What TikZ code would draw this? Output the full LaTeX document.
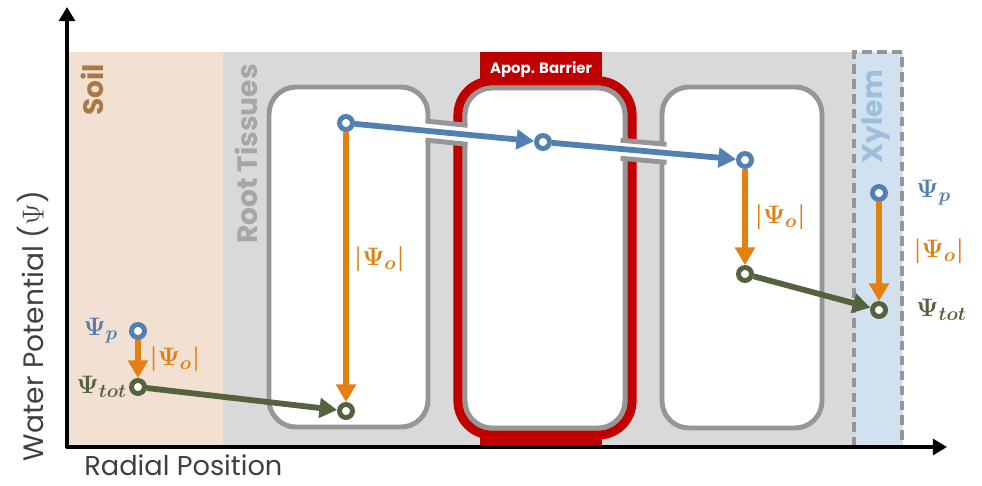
\documentclass[tikz,border=0pt]{standalone}
\usepackage{fontspec}
\setmainfont{Poppins}
\usepackage{amsmath}
\usetikzlibrary{arrows.meta, positioning, calc}

\definecolor{soilFill}{RGB}{242,225,211}
\definecolor{soilText}{RGB}{168,122,72}
\definecolor{tissueFill}{RGB}{217,217,217}
\definecolor{tissueText}{RGB}{166,166,166}
\definecolor{wallGray}{RGB}{150,150,150}
\definecolor{barrierRed}{RGB}{192,0,0}
\definecolor{xylemFill}{RGB}{210,225,239}
\definecolor{xylemText}{RGB}{157,190,220}
\definecolor{psiBlue}{RGB}{82,128,176}
\definecolor{psiOrange}{RGB}{227,128,18}
\definecolor{psiGreen}{RGB}{84,99,62}
\definecolor{axisText}{RGB}{64,64,64}

\tikzset{
  axisArrow/.style={-{Triangle[length=8pt, width=9pt]}, line width=2.6pt},
  % --- PAREDES CELULARES ---
  cellWall/.style={draw=wallGray, fill=white, line width=2.8pt, rounded corners=0.54cm},
  wallLine/.style={draw=wallGray, line width=2.8pt},
  % --- SETAS DE FLUXO ---
  flowBase/.style={line width=3.3pt, -{Triangle[length=10pt, width=11pt]}},
  flowBlue/.style={flowBase, draw=psiBlue, fill=psiBlue},
  flowOrange/.style={flowBase, draw=psiOrange, fill=psiOrange},
  flowGreen/.style={flowBase, draw=psiGreen, fill=psiGreen},
  % --- PONTOS ---
  dotBase/.style={circle, fill=white, line width=2.8pt, minimum size=0.26cm, inner sep=0pt},
  dotBlue/.style={dotBase, draw=psiBlue},
  dotGreen/.style={dotBase, draw=psiGreen},
  % --- TEXTOS ---
  regionLabel/.style={rotate=90, anchor=east, font=\fontsize{16}{19}\selectfont\bfseries},
  psiLabel/.style={font=\fontsize{15.5}{18}\selectfont\boldmath, inner sep=1pt},
  axisLabel/.style={text=axisText, font=\fontsize{16}{19}\selectfont}
}

\begin{document}
\begin{tikzpicture}[x=0.02cm, y=-0.02cm]
  \useasboundingbox (0,0) rectangle (982,485);

  %% --- REGIÕES DE FUNDO ---
  \fill[soilFill] (67,52) rectangle (223,447);
  \fill[tissueFill] (223,52) rectangle (854,447);
  \draw[xylemFill, fill=xylemFill] (854,52) rectangle (902,447);
  \draw[wallGray, line width=2.4pt, dash pattern=on 5.5pt off 3pt] (854,447) -- (854,52) -- (902,52) -- (902,447);

  \node[regionLabel, text=soilText] (soilLbl) at (92,58) {Soil};
  \node[regionLabel, text=tissueText] (tissueLbl) at (246,58) {Root Tissues};
  \node[regionLabel, text=xylemText] (xylemLbl) at (876,64) {Xylem};

  %% --- BARREIRA APOPLÁSTICA ---
  \fill[barrierRed] (480,52) rectangle (602,79);
  \fill[barrierRed] (480,432) rectangle (602,447);
  \draw[barrierRed, line width=5.2pt, rounded corners=0.68cm] (458,81) rectangle (632,435);
  \node[text=white, font=\fontsize{8.5}{10}\selectfont\bfseries] (barrierLbl) at (541,69) {Apop. Barrier};

  %% --- CÉLULAS ---
  \draw[cellWall] (269,87) rectangle (428,427);
  \draw[cellWall] (465,88) rectangle (625,428);
  \draw[cellWall] (662,87) rectangle (822,428);

  % Plasmodesmos (canais entre células)
  \fill[white] (425,121) -- (468,125.3) -- (468,144.3) -- (425,140) -- cycle;
  \draw[wallLine] (425.5,121) -- (467.5,125.3);
  \draw[wallLine] (425.5,140) -- (467.5,144.3);
  \fill[white] (620,140.2) -- (667,144.3) -- (667,162.3) -- (620,158.2) -- cycle;
  \draw[wallLine] (620.5,140.2) -- (666.5,144.3);
  \draw[wallLine] (620.5,158.2) -- (666.5,162.3);

  %% --- PONTOS DE POTENCIAL ---
  \node[dotBlue] (soilP) at (138,331) {};
  \node[dotGreen] (soilT) at (138,387) {};
  \node[dotBlue] (cellAP) at (346,123) {};
  \node[dotGreen] (cellAT) at (346,411) {};
  \node[dotBlue] (cellBP) at (543,142) {};
  \node[dotBlue] (cellCP) at (745,160) {};
  \node[dotGreen] (cellCT) at (745,274) {};
  \node[dotBlue] (xylemP) at (879,193) {};
  \node[dotGreen] (xylemT) at (879,310) {};

  % Fluxo simplástico
  \draw[flowBlue] (cellAP) -- (cellBP);
  \draw[flowBlue] (cellBP) -- (cellCP);

  % Componente osmótica
  \draw[flowOrange] (soilP) -- node[psiLabel, text=psiOrange, right=4pt] (soilO) {$|\Psi_o|$} (soilT);
  \draw[flowOrange] (cellAP) -- node[psiLabel, text=psiOrange, pos=0.47, right=2pt] (cellAO) {$|\Psi_o|$} (cellAT);
  \draw[flowOrange] (cellCP) -- node[psiLabel, text=psiOrange, right=3pt] (cellCO) {$|\Psi_o|$} (cellCT);
  \draw[flowOrange] (xylemP) -- node[psiLabel, text=psiOrange, right=17pt] (xylemO) {$|\Psi_o|$} (xylemT);

  % Potencial total
  \draw[flowGreen] (soilT) -- (cellAT);
  \draw[flowGreen] (cellCT) -- (xylemT);

  \node[psiLabel, text=psiBlue, left=5pt of soilP] (soilPLbl) {$\Psi_p$};
  \node[psiLabel, text=psiGreen, left=0pt of soilT] (soilTLbl) {$\Psi_{tot}$};
  \node[psiLabel, text=psiBlue, right=15pt of xylemP] (xylemPLbl) {$\Psi_p$};
  \node[psiLabel, text=psiGreen, right=15pt of xylemT] (xylemTLbl) {$\Psi_{tot}$};

  %% --- EIXOS ---
  \coordinate (origin) at (67,447);
  \coordinate (yEnd) at (67,7);
  \coordinate (xEnd) at (947,447);
  \draw[axisArrow] ($(origin)+(0,1.3)$) -- (yEnd);
  \draw[axisArrow] ($(origin)+(-1.3,0)$) -- (xEnd);

  \node[axisLabel, font=\fontsize{15.5}{18}\selectfont, anchor=base west, inner sep=0pt] (xLbl) at (84,475) {Radial Position};
  \node[axisLabel, rotate=90] (yLbl) at (33,326) {Water Potential (\(\Psi\))};
\end{tikzpicture}
\end{document}
